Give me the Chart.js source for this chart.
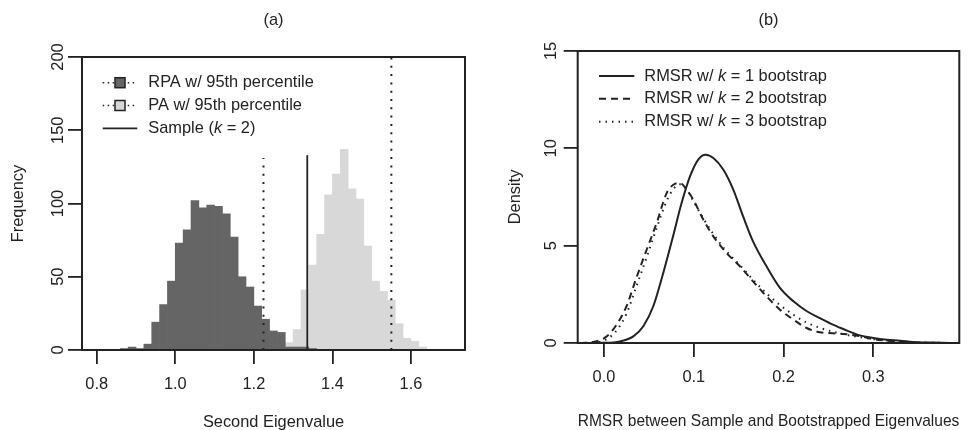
<!DOCTYPE html>
<html>
<head>
<meta charset="utf-8">
<script src="https://cdn.jsdelivr.net/npm/chart.js@4.4.1/dist/chart.umd.min.js"></script>
<style>
  html, body { margin: 0; padding: 0; background: #fff; }
  #wrap { position: relative; width: 971px; height: 430px; }
  canvas { position: absolute; top: 0; }
  #left { left: 0; }
  #right { left: 485px; }
</style>
</head>
<body>
<div id="wrap">
  <canvas id="left" width="485" height="430"></canvas>
  <canvas id="right" width="486" height="430"></canvas>
</div>
<script>
// panel (a): histograms of the second eigenvalue
const binWidth = 0.02
const rpaStart = 0.86
const rpaCounts = [1, 2, 1, 4, 19, 31, 47, 73, 82, 102, 97, 99, 98, 93, 77, 50, 43, 30, 21, 13, 12, 2, 2, 2, 1]
const paStart = 1.28
const paCounts = [5, 14, 41, 58, 79, 106, 120, 137, 110, 103, 71, 47, 40, 34, 18, 8, 6, 2]
const rpaCutoff = 1.2245
const rpaCutoffTop = 131
const paCutoff = 1.55
const paCutoffTop = 200
const sampleValue = 1.336
const sampleTop = 133
const histXTicks = [0.8, 1.0, 1.2, 1.4, 1.6]
const histYTicks = [0, 50, 100, 150, 200]
const histLegend = ['RPA w/ 95th percentile', 'PA w/ 95th percentile', 'Sample (k = 2)']

// panel (b): densities of the RMSR
const k1X = [-0.029, 0.0, 0.0178, 0.0327, 0.0438, 0.055, 0.066, 0.077, 0.0865, 0.0958, 0.105, 0.1132, 0.1218, 0.133, 0.144, 0.155, 0.166, 0.181, 0.196, 0.211, 0.226, 0.2405, 0.255, 0.270, 0.285, 0.300, 0.315, 0.330, 0.344, 0.367, 0.395]
const k1Y = [0, 0.01, 0.08, 0.34, 0.86, 1.9, 3.6, 5.5, 7.2, 8.56, 9.42, 9.67, 9.5, 8.9, 7.88, 6.5, 5.22, 3.94, 2.83, 2.14, 1.63, 1.28, 0.94, 0.65, 0.39, 0.26, 0.17, 0.12, 0.05, 0.02, 0]
const k2X = [-0.027, -0.008, 0.003, 0.014, 0.025, 0.036, 0.0475, 0.0586, 0.0698, 0.0772, 0.0846, 0.092, 0.0995, 0.1106, 0.1218, 0.1366, 0.1514, 0.166, 0.181, 0.196, 0.211, 0.2257, 0.2405, 0.255, 0.27, 0.285, 0.30, 0.315, 0.33, 0.35, 0.37]
const k2Y = [0, 0.09, 0.34, 0.94, 1.88, 3.34, 4.79, 6.16, 7.7, 8.13, 8.22, 7.88, 7.36, 6.34, 5.48, 4.62, 3.94, 3.17, 2.4, 1.71, 1.2, 0.77, 0.55, 0.5, 0.45, 0.35, 0.2, 0.12, 0.06, 0.02, 0]
const k3X = [-0.02, -0.005, 0.005, 0.015, 0.025, 0.036, 0.0475, 0.0586, 0.0698, 0.0772, 0.0846, 0.092, 0.0995, 0.1106, 0.1218, 0.1366, 0.1514, 0.166, 0.181, 0.196, 0.211, 0.2257, 0.2405, 0.255, 0.27, 0.285, 0.30, 0.315, 0.33, 0.35, 0.37, 0.39]
const k3Y = [0, 0.05, 0.25, 0.7, 1.5, 2.9, 4.4, 5.9, 7.3, 7.9, 8.15, 7.9, 7.3, 6.4, 5.6, 4.7, 4.0, 3.25, 2.55, 1.95, 1.45, 1.05, 0.78, 0.58, 0.42, 0.3, 0.2, 0.13, 0.08, 0.03, 0.01, 0]
const densXTicks = [0.0, 0.1, 0.2, 0.3]
const densYTicks = [0, 5, 10, 15]
const densLegend = ['RMSR w/ k = 1 bootstrap', 'RMSR w/ k = 2 bootstrap', 'RMSR w/ k = 3 bootstrap']

const ink = '#222222'
const darkGray = '#656565'
const lightGray = '#d8d8d8'
const family = "'Liberation Sans', Arial, Helvetica, sans-serif"
const fontSize = 16.4
const font = { family: family, size: fontSize, weight: 'normal' }

Chart.defaults.font.family = family
Chart.defaults.font.size = fontSize
Chart.defaults.color = ink

const boxPlugin = {
  id: 'box',
  afterDatasetsDraw(chart) {
    const { ctx, chartArea: a } = chart
    ctx.save()
    ctx.strokeStyle = ink
    ctx.lineWidth = 2
    ctx.strokeRect(a.left, a.top, a.right - a.left, a.bottom - a.top)
    ctx.restore()
  }
}

// legend with R-like keys, k shown in italics
function drawLabel(ctx, text, x, y) {
  text.split(/\b(k)\b/).forEach(part => {
    ctx.font = (part === 'k' ? 'italic ' : '') + fontSize + 'px ' + family
    ctx.fillText(part, x, y)
    x += ctx.measureText(part).width
  })
}

const keyLegendPlugin = {
  id: 'keyLegend',
  afterDraw(chart, args, opts) {
    const { ctx, chartArea: a } = chart
    ctx.save()
    opts.items.forEach((item, i) => {
      const y = a.top + opts.top + i * opts.gap
      const x0 = a.left + opts.lineStart
      const x1 = a.left + opts.lineEnd
      ctx.strokeStyle = ink
      ctx.lineWidth = item.width || 1.5
      ctx.setLineDash(item.dash || [])
      ctx.beginPath()
      ctx.moveTo(x0, y)
      ctx.lineTo(x1, y)
      ctx.stroke()
      ctx.setLineDash([])
      if (item.box) {
        const s = 10
        const cx = (x0 + x1) / 2
        ctx.fillStyle = item.box
        ctx.fillRect(cx - s / 2, y - s / 2, s, s)
        ctx.lineWidth = 1.5
        ctx.strokeRect(cx - s / 2, y - s / 2, s, s)
      }
      ctx.fillStyle = ink
      ctx.textAlign = 'left'
      ctx.textBaseline = 'middle'
      drawLabel(ctx, item.text, a.left + opts.textStart, y)
    })
    ctx.restore()
  }
}

function axis(ticks, digits, title, o) {
  return {
    type: 'linear',
    min: o.min,
    max: o.max,
    offset: false,
    afterBuildTicks: s => { s.ticks = ticks.map(v => ({ value: v })) },
    afterFit: s => {
      if (o.w) s.width = o.w
      if (o.h) s.height = o.h
    },
    grid: { drawOnChartArea: false, drawTicks: true, tickLength: 14, color: ink, lineWidth: 1.8, offset: false },
    border: { display: false },
    ticks: {
      autoSkip: false,
      color: ink,
      font: font,
      padding: o.pad,
      minRotation: o.rot || 0,
      maxRotation: o.rot || 0,
      crossAlign: o.rot ? 'center' : 'near',
      callback: v => v.toFixed(digits)
    },
    title: { display: true, text: title, color: ink, font: font, padding: o.tpad }
  }
}

function vline(x, top, dash) {
  return {
    type: 'line',
    data: [{ x: x, y: 0 }, { x: x, y: top }],
    borderColor: ink,
    borderWidth: dash ? 2 : 1.8,
    borderDash: dash || [],
    pointRadius: 0,
    order: -1
  }
}

new Chart(document.getElementById('left'), {
  type: 'bar',
  data: {
    datasets: [
      {
        label: 'RPA',
        data: rpaCounts.map((c, i) => ({ x: rpaStart + binWidth * (i + 0.5), y: c })),
        backgroundColor: darkGray,
        borderWidth: 0,
        barPercentage: 1,
        categoryPercentage: 1,
        grouped: false
      },
      {
        label: 'PA',
        data: paCounts.map((c, i) => ({ x: paStart + binWidth * (i + 0.5), y: c })),
        backgroundColor: lightGray,
        borderWidth: 0,
        barPercentage: 1,
        categoryPercentage: 1,
        grouped: false
      },
      vline(rpaCutoff, rpaCutoffTop, [2, 6.3]),
      vline(paCutoff, paCutoffTop, [2, 6.3]),
      vline(sampleValue, sampleTop, null)
    ]
  },
  options: {
    responsive: false,
    animation: false,
    layout: { padding: { left: 0, top: 0, right: 20, bottom: 0 } },
    plugins: {
      legend: { display: false },
      tooltip: { enabled: false },
      title: { display: true, text: '(a)', font: font, color: ink, fullSize: false, padding: { top: 10.16, bottom: 27.16 } },
      keyLegend: {
        top: 25.7, gap: 22.8, lineStart: 20.7, lineEnd: 55.3, textStart: 66.3,
        items: [
          { text: histLegend[0], dash: [1.5, 3.5], box: darkGray },
          { text: histLegend[1], dash: [1.5, 3.5], box: lightGray },
          { text: histLegend[2], width: 1.8 }
        ]
      }
    },
    scales: {
      x: axis(histXTicks, 1, 'Second Eigenvalue', { min: 0.7625, max: 1.7375, h: 80, pad: 10.16, tpad: { top: 0, bottom: -1.84 } }),
      y: axis(histYTicks, 0, 'Frequency', { min: 0, max: 200, w: 82, pad: -3.7, rot: 90, tpad: { top: 8.16, bottom: 0 } })
    }
  },
  plugins: [boxPlugin, keyLegendPlugin]
})

function curve(xs, ys, dash) {
  return {
    data: xs.map((x, i) => ({ x: x, y: ys[i] })),
    borderColor: ink,
    borderWidth: 2,
    borderDash: dash,
    pointRadius: 0,
    cubicInterpolationMode: 'monotone'
  }
}

new Chart(document.getElementById('right'), {
  type: 'line',
  data: {
    datasets: [
      curve(k1X, k1Y, []),
      curve(k2X, k2Y, [7, 5]),
      curve(k3X, k3Y, [1.5, 5])
    ]
  },
  options: {
    responsive: false,
    animation: false,
    layout: { padding: { left: 0, top: 0, right: 11.7, bottom: 0 } },
    plugins: {
      legend: { display: false },
      tooltip: { enabled: false },
      title: { display: true, text: '(b)', font: font, color: ink, fullSize: false, padding: { top: 10.16, bottom: 21.16 } },
      keyLegend: {
        top: 25, gap: 22.85, lineStart: 21.3, lineEnd: 56.6, textStart: 66.6,
        items: [
          { text: densLegend[0], width: 2 },
          { text: densLegend[1], width: 2, dash: [7, 5] },
          { text: densLegend[2], width: 2, dash: [1.5, 5] }
        ]
      }
    },
    scales: {
      x: axis(densXTicks, 1, 'RMSR between Sample and Bootstrapped Eigenvalues', { min: -0.0293, max: 0.3958, h: 87, pad: 10.86, tpad: { top: 0, bottom: -1.54 } }),
      y: axis(densYTicks, 0, 'Density', { min: 0, max: 15, w: 92.7, pad: 2.9, rot: 90, tpad: { top: 20.16, bottom: 0 } })
    }
  },
  plugins: [boxPlugin, keyLegendPlugin]
})
</script>
</body>
</html>
